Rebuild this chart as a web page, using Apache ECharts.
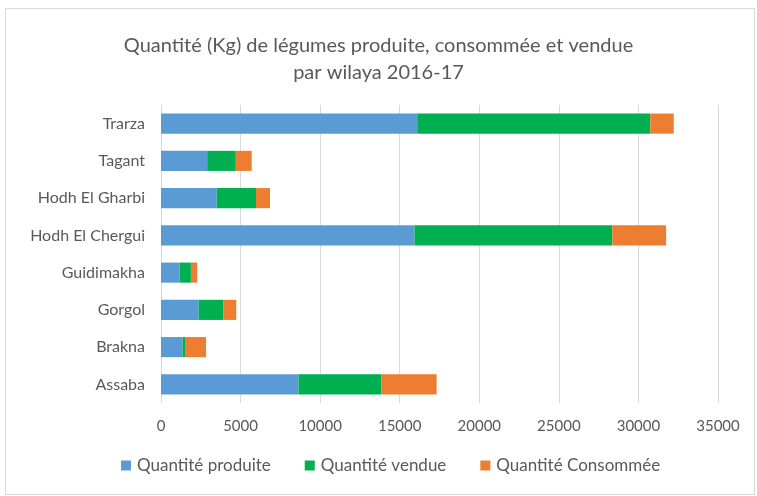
<!DOCTYPE html>
<html>
<head>
<meta charset="utf-8">
<script src="https://cdn.jsdelivr.net/npm/echarts@6/dist/echarts.min.js"></script>
<style>
  html, body { margin: 0; padding: 0; background: #fff; }
  #chart { width: 757px; height: 496px; }
</style>
</head>
<body>
<div id="chart"></div>
<script>
// wilayas, bottom to top as drawn
const wilayas = ['Assaba', 'Brakna', 'Gorgol', 'Guidimakha', 'Hodh El Chergui', 'Hodh El Gharbi', 'Tagant', 'Trarza']
const produite = [8640, 1360, 2370, 1170, 15930, 3500, 2900, 16100]
const vendue = [5220, 150, 1540, 710, 12430, 2470, 1800, 14650]
const consommee = [3460, 1320, 820, 400, 3380, 880, 1000, 1470]

const chart = echarts.init(document.getElementById('chart'))
const font = 'Lato, "Open Sans", sans-serif'

const mkSeries = (name, data, color) => ({
  name,
  type: 'bar',
  stack: 'total',
  data,
  barCategoryGap: '46%',
  itemStyle: { color },
  emphasis: { disabled: true }
})

chart.setOption({
  animation: false,
  textStyle: { fontFamily: font },
  graphic: [{
    type: 'rect',
    shape: { x: 5.5, y: 8.5, width: 749, height: 486 },
    style: { fill: 'none', stroke: '#d9d9d9', lineWidth: 1 }
  }],
  title: {
    text: 'Quantité (Kg) de légumes produite, consommée et vendue\npar wilaya 2016-17',
    left: 'center',
    top: 27,
    textStyle: { fontFamily: font, fontSize: 20, fontWeight: 'normal', color: '#595959', lineHeight: 27 }
  },
  legend: {
    bottom: 17,
    left: 116,
    itemWidth: 10,
    itemHeight: 10,
    itemGap: 34,
    icon: 'rect',
    textStyle: { fontFamily: font, fontSize: 17, color: '#595959', padding: [0, 0, 0, 1] },
    data: ['Quantité produite', 'Quantité vendue', 'Quantité Consommée']
  },
  grid: { left: 161, right: 39, top: 105, bottom: 93, containLabel: false },
  xAxis: {
    type: 'value',
    min: 0,
    max: 35000,
    interval: 5000,
    axisLine: { show: false },
    axisTick: { show: false },
    axisLabel: { color: '#595959', fontSize: 15, margin: 16, formatter: v => String(v) },
    splitLine: { lineStyle: { color: '#d9d9d9', width: 1 } }
  },
  yAxis: {
    type: 'category',
    data: wilayas,
    axisLine: { show: false },
    axisTick: { show: false },
    axisLabel: { color: '#595959', fontSize: 16, margin: 16 }
  },
  series: [
    mkSeries('Quantité produite', produite, '#5b9bd5'),
    mkSeries('Quantité vendue', vendue, '#00b050'),
    mkSeries('Quantité Consommée', consommee, '#ed7d31')
  ]
})
</script>
</body>
</html>
